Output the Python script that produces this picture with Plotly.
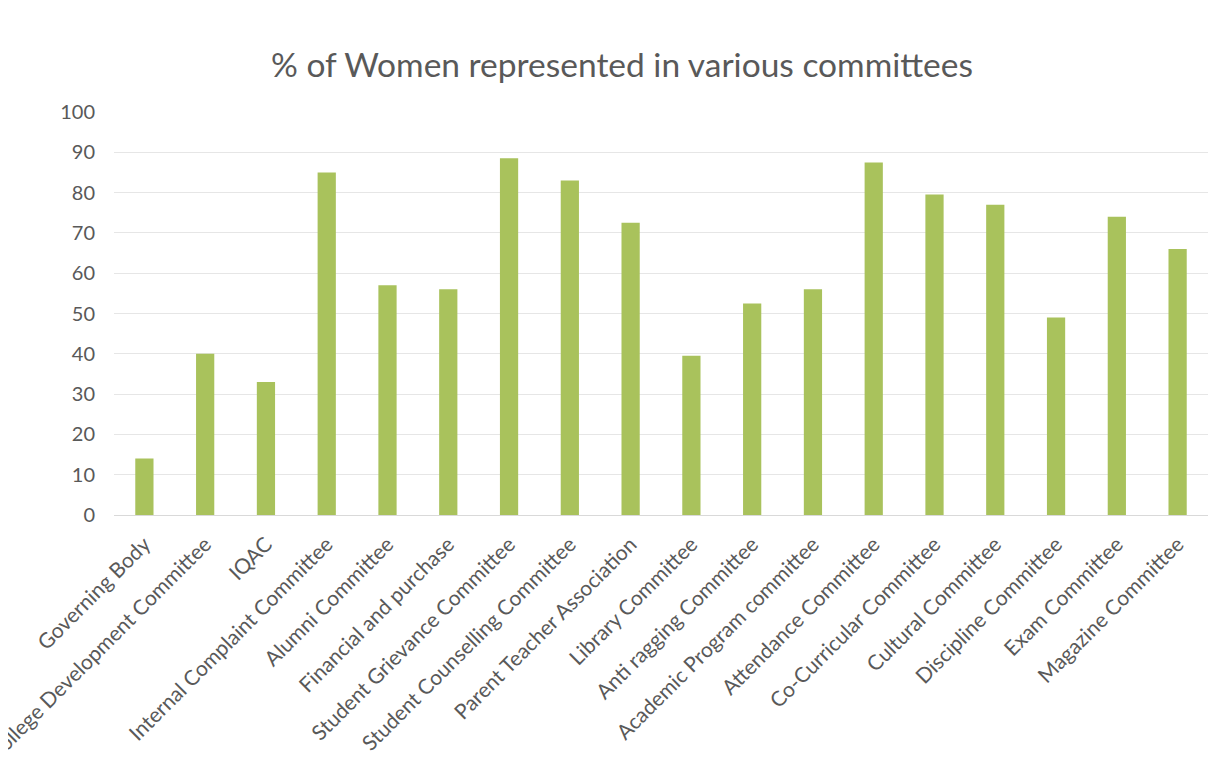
import plotly.graph_objects as go

categories = [
    "Governing Body", "College Development Committee", "IQAC",
    "Internal Complaint Committee", "Alumni Committee", "Financial and purchase",
    "Student Grievance Committee", "Student Counselling Committee",
    "Parent Teacher Association", "Library Committee", "Anti ragging Committee",
    "Academic Program committee", "Attendance Committee", "Co-Curricular Committee",
    "Cultural Committee", "Discipline Committee", "Exam Committee", "Magazine Committee",
]
women_pct = [14, 40, 33, 85, 57, 56, 88.5, 83, 72.5, 39.5, 52.5, 56, 87.5, 79.5, 77, 49, 74, 66]
y_ticks = list(range(0, 101, 10))

fig = go.Figure(go.Bar(
    x=categories, y=women_pct,
    marker=dict(color="#a9c25c", line=dict(width=0)),
))

W, H = 1217, 775
fig.update_layout(
    width=W, height=H,
    paper_bgcolor="white", plot_bgcolor="white",
    font=dict(family="Lato, Open Sans, sans-serif", color="#595959"),
    title=dict(text="% of Women represented in various committees",
               x=0.5045, xanchor="center", y=0.926, yanchor="middle",
               font=dict(size=33.5, color="#595959", family="Lato, Open Sans, sans-serif")),
    margin=dict(l=106, r=17, t=104, b=268),
    bargap=0.70,
    showlegend=False,
)
fig.update_xaxes(
    tickangle=-45, tickfont=dict(size=21, color="#595959"),
    showgrid=False, showline=False, automargin=False, ticks="",
    ticklabelstandoff=12,
)
fig.update_yaxes(
    range=[0, 100], tickvals=y_ticks, tickfont=dict(size=20, color="#595959"),
    showgrid=True, gridcolor="#e6e6e6", gridwidth=1, zeroline=True,
    zerolinecolor="#d9d9d9", zerolinewidth=1, showline=False, automargin=False,
    ticks="", ticklabelstandoff=18,
)

fig.write_html("out.html")
